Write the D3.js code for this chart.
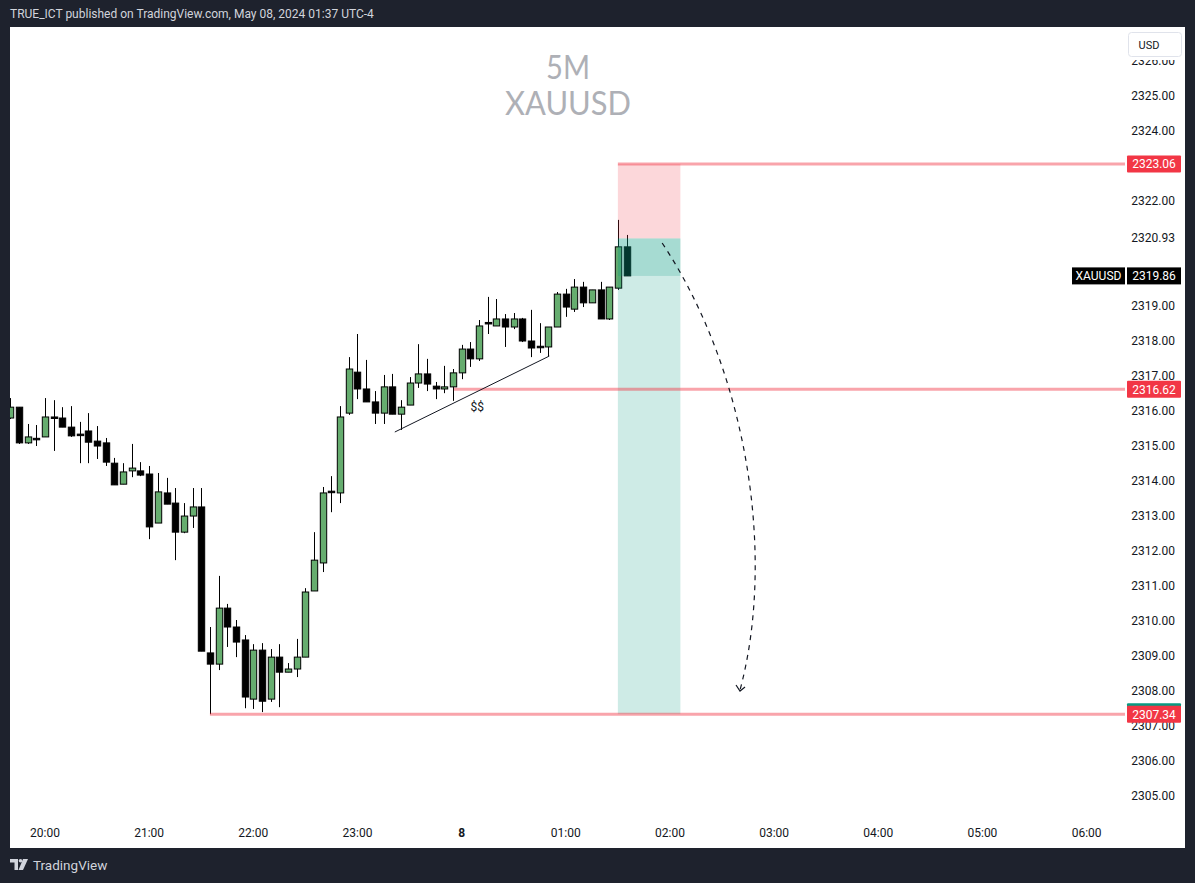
<!DOCTYPE html>
<html>
<head>
<meta charset="utf-8">
<script src="https://cdn.jsdelivr.net/npm/d3@7"></script>
<style>
  html, body { margin: 0; padding: 0; background: #1e222d; overflow: hidden; }
  text { font-family: Roboto, "Noto Sans", sans-serif; }
</style>
</head>
<body>
<script>

// 5 minute XAUUSD bars, bar index 0 = 20:00
var firstIndex = -4;
var opens  = [2315.80,2316.11,2315.09,2315.22,2315.26,2315.83,2315.80,2315.54,2315.34,2315.43,2315.14,2315.09,2314.51,2313.91,2314.29,2314.29,2314.20,2312.80,2313.66,2313.37,2312.54,2313.00,
              2313.26,2309.09,2308.77,2310.37,2309.83,2309.46,2307.77,2309.17,2307.77,2308.97,2308.54,2308.63,2308.97,2310.86,2311.66,2313.71,2313.66,2315.94,2317.11,2316.63,2316.26,2315.94,
              2316.69,2315.91,2316.17,2316.80,2317.06,2316.71,2316.63,2316.69,2317.09,2317.77,2317.49,2318.53,2318.43,2318.63,2318.40,2318.63,2318.00,2317.85,2317.83,2318.40,2319.34,2318.91,
              2319.54,2319.09,2319.46,2318.63,2319.51,2320.69];
var highs  = [2316.37,2316.11,2315.63,2315.60,2316.37,2316.31,2316.11,2316.14,2315.69,2315.94,2315.57,2315.23,2314.66,2314.51,2315.06,2314.54,2314.43,2314.23,2314.09,2313.80,2313.37,2313.80,
              2313.80,2309.83,2311.29,2310.49,2310.03,2309.60,2309.34,2309.37,2309.20,2309.34,2308.80,2309.49,2310.94,2312.54,2313.83,2314.14,2316.14,2317.54,2318.20,2317.46,2316.57,2317.03,
              2317.06,2316.31,2316.97,2317.91,2317.49,2316.83,2317.29,2317.20,2317.89,2317.97,2318.60,2319.26,2319.20,2318.77,2318.80,2318.66,2318.89,2318.51,2318.40,2319.40,2319.49,2319.77,
              2319.69,2319.46,2319.69,2319.54,2321.46,2321.03];
var lows   = [2315.77,2315.06,2315.06,2315.00,2315.26,2314.86,2315.54,2315.26,2314.51,2314.51,2314.63,2314.43,2313.89,2313.91,2314.11,2314.14,2312.34,2312.80,2313.34,2311.74,2312.51,2312.66,
              2309.14,2307.34,2308.60,2309.26,2308.97,2307.51,2307.49,2307.40,2307.69,2307.54,2308.54,2308.40,2308.97,2310.86,2311.40,2313.11,2313.37,2315.89,2316.34,2316.26,2315.63,2315.63,
              2315.91,2315.46,2316.17,2316.66,2316.57,2316.34,2316.51,2316.29,2316.91,2317.26,2317.43,2318.20,2318.43,2317.83,2318.34,2317.97,2317.54,2317.66,2317.57,2318.40,2318.69,2318.83,
              2318.97,2319.09,2318.63,2318.60,2319.46,2319.86];
var closes = [2316.11,2315.09,2315.26,2315.20,2315.83,2315.80,2315.54,2315.29,2315.32,2315.11,2315.00,2314.54,2313.89,2314.26,2314.37,2314.17,2312.69,2313.69,2313.34,2312.54,2313.00,2313.26,
              2309.14,2308.77,2310.37,2309.83,2309.40,2307.83,2309.17,2307.71,2308.97,2308.54,2308.63,2308.97,2310.83,2311.74,2313.66,2313.69,2315.83,2317.20,2316.63,2316.26,2315.94,2316.69,
              2315.91,2316.11,2316.80,2317.06,2316.77,2316.63,2316.69,2317.09,2317.77,2317.49,2318.43,2318.49,2318.63,2318.40,2318.63,2318.00,2317.80,2317.82,2318.40,2319.34,2318.97,2319.54,
              2319.09,2319.46,2318.63,2319.54,2320.69,2319.86];

var timeTicks  = [0, 12, 24, 36, 48, 60, 72, 84, 96, 108, 120];
var timeLabels = ["20:00", "21:00", "22:00", "23:00", "8", "01:00", "02:00", "03:00", "04:00", "05:00", "06:00"];
// 2320 and 2321 are hidden by the last price / entry marks
var priceTicks = [2305, 2306, 2307, 2308, 2309, 2310, 2311, 2312, 2313, 2314, 2315, 2316, 2317, 2318, 2319, 2322, 2323, 2324, 2325, 2326];

// short position tool
var stopPrice = 2323.06, entryPrice = 2320.93, targetPrice = 2307.34, lastPrice = 2319.86;
var positionFrom = 66, positionTo = 73.2;

// horizontal levels
var levelPrices = [2323.06, 2316.62, 2307.34];
var levelStarts = [66, 47.1, 19];

// trend line under the lows and the "$$" mark
var trendIdx = [40.3, 58.1], trendPrice = [2315.4, 2317.57];
var markIdx = 49.8, markPrice = 2316.0;

// dashed projection arrow (cubic: start, ctrl1, ctrl2, end)
var arrowIdx   = [71.1, 81.2, 84.1, 80.07];
var arrowPrice = [2320.8, 2317.03, 2311.74, 2308.03];

var W = 1195, H = 883,
    panel = {left: 10, top: 27, right: 1185, bottom: 848},
    plot = {left: 10, top: 27, right: 1125, bottom: 815},
    barStep = 8.68;

var bars = opens.map(function(o, i) {
  return {i: firstIndex + i, o: o, h: highs[i], l: lows[i], c: closes[i]};
});

var x = d3.scaleLinear()
    .domain([(plot.left - 45) / barStep, (plot.right - 45) / barStep])
    .range([plot.left, plot.right]);
var y = d3.scaleLinear()
    .domain([2304.46, 2326.97])
    .range([plot.bottom, plot.top]);

var svg = d3.select("body").append("svg")
    .attr("width", W)
    .attr("height", H);

svg.append("rect").attr("width", W).attr("height", H).attr("fill", "#1e222d");
svg.append("rect")
    .attr("x", panel.left).attr("y", panel.top)
    .attr("width", panel.right - panel.left).attr("height", panel.bottom - panel.top)
    .attr("fill", "#ffffff");

// header / footer
svg.append("text")
    .attr("x", 10).attr("y", 18)
    .attr("fill", "#d1d4dc").style("font-size", "12px")
    .text("TRUE_ICT published on TradingView.com, May 08, 2024 01:37 UTC-4");

var logo = svg.append("g").attr("transform", "translate(10,859)").attr("fill", "#d1d4dc");
logo.append("path").attr("d", "M0,0 H8 V11 H4.5 V3.5 H0 Z");
logo.append("circle").attr("cx", 10.5).attr("cy", 1.8).attr("r", 1.8);
logo.append("path").attr("d", "M13,0 H18 L13,11 H8.5 Z");
svg.append("text")
    .attr("x", 33).attr("y", 870)
    .attr("fill", "#d1d4dc").style("font-size", "13.5px")
    .text("TradingView");

// watermark
svg.append("text")
    .attr("x", 568).attr("y", 79)
    .attr("text-anchor", "middle")
    .attr("fill", "#aeb0b6")
    .attr("textLength", 44).attr("lengthAdjust", "spacingAndGlyphs")
    .style("font-family", "Lato, sans-serif").style("font-size", "33px")
    .text("5M");
svg.append("text")
    .attr("x", 568).attr("y", 115)
    .attr("text-anchor", "middle")
    .attr("fill", "#aeb0b6")
    .attr("textLength", 126).attr("lengthAdjust", "spacingAndGlyphs")
    .style("font-family", "Lato, sans-serif").style("font-size", "33px")
    .text("XAUUSD");

svg.append("clipPath").attr("id", "clip")
  .append("rect")
    .attr("x", plot.left).attr("y", plot.top)
    .attr("width", plot.right - plot.left).attr("height", plot.bottom - plot.top);

var chart = svg.append("g").attr("clip-path", "url(#clip)");

// candles
var bodyW = 6.4;
var candle = chart.selectAll(".candle")
    .data(bars)
  .enter().append("g")
    .attr("class", "candle");

candle.append("line")
    .attr("x1", function(d) { return Math.round(x(d.i)) + 0.5; })
    .attr("x2", function(d) { return Math.round(x(d.i)) + 0.5; })
    .attr("y1", function(d) { return y(d.h); })
    .attr("y2", function(d) { return y(d.l); })
    .attr("stroke", "#000").attr("stroke-width", 1);

candle.append("rect")
    .attr("x", function(d) { return Math.round(x(d.i)) + 0.5 - bodyW / 2; })
    .attr("y", function(d) { return y(Math.max(d.o, d.c)); })
    .attr("width", bodyW)
    .attr("height", function(d) { return Math.max(1.5, Math.abs(y(d.o) - y(d.c))); })
    .attr("fill", function(d) { return d.c >= d.o ? "#66ad6f" : "#000"; })
    .attr("stroke", "#000").attr("stroke-width", 1);

// position tool (drawn over the bars, translucent)
var px0 = x(positionFrom), px1 = x(positionTo);
chart.append("rect")
    .attr("x", px0).attr("y", y(stopPrice))
    .attr("width", px1 - px0).attr("height", y(entryPrice) - y(stopPrice))
    .attr("fill", "rgba(242,54,69,0.2)");
chart.append("rect")
    .attr("x", px0).attr("y", y(entryPrice))
    .attr("width", px1 - px0).attr("height", y(targetPrice) - y(entryPrice))
    .attr("fill", "rgba(8,153,129,0.2)");
chart.append("rect")
    .attr("x", px0).attr("y", y(entryPrice))
    .attr("width", px1 - px0).attr("height", y(lastPrice) - y(entryPrice))
    .attr("fill", "rgba(8,153,129,0.2)");

// horizontal levels
chart.selectAll(".level")
    .data(levelPrices)
  .enter().append("line")
    .attr("class", "level")
    .attr("x1", function(d, i) { return x(levelStarts[i]); })
    .attr("x2", plot.right)
    .attr("y1", function(d) { return y(d); })
    .attr("y2", function(d) { return y(d); })
    .attr("stroke", "rgba(242,54,69,0.45)")
    .attr("stroke-width", 3);

// trend line + $$ mark
chart.append("line")
    .attr("x1", x(trendIdx[0])).attr("y1", y(trendPrice[0]))
    .attr("x2", x(trendIdx[1])).attr("y2", y(trendPrice[1]))
    .attr("stroke", "#131722").attr("stroke-width", 1);
chart.append("text")
    .attr("x", x(markIdx)).attr("y", y(markPrice))
    .attr("text-anchor", "middle")
    .attr("fill", "#131722").style("font-size", "12px")
    .text("$$");

// dashed projection arrow
var ap = d3.path();
ap.moveTo(x(arrowIdx[0]), y(arrowPrice[0]));
ap.bezierCurveTo(x(arrowIdx[1]), y(arrowPrice[1]), x(arrowIdx[2]), y(arrowPrice[2]), x(arrowIdx[3]), y(arrowPrice[3]));
chart.append("path")
    .attr("d", ap.toString())
    .attr("fill", "none")
    .attr("stroke", "#131722").attr("stroke-width", 1.2)
    .attr("stroke-dasharray", "5,5");
var ex = x(arrowIdx[3]), ey = y(arrowPrice[3]);
chart.append("path")
    .attr("d", "M" + (ex - 4) + "," + (ey - 5) + " L" + ex + "," + (ey + 1) + " L" + (ex + 5) + "," + (ey - 3))
    .attr("fill", "none").attr("stroke", "#131722").attr("stroke-width", 1.2);

// time axis
svg.selectAll(".tlab")
    .data(timeTicks)
  .enter().append("text")
    .attr("class", "tlab")
    .attr("x", function(d) { return x(d); })
    .attr("y", 837)
    .attr("text-anchor", "middle")
    .attr("fill", "#131722")
    .style("font-size", "12px")
    .style("font-weight", function(d, i) { return timeLabels[i] === "8" ? "bold" : "normal"; })
    .text(function(d, i) { return timeLabels[i]; });

// price axis
svg.selectAll(".plab")
    .data(priceTicks)
  .enter().append("text")
    .attr("class", "plab")
    .attr("x", 1175)
    .attr("y", function(d) { return y(d) + 4; })
    .attr("text-anchor", "end")
    .attr("fill", "#131722")
    .style("font-size", "12px")
    .text(function(d) { return d.toFixed(2); });

// entry price shown on the scale
svg.append("text")
    .attr("x", 1175).attr("y", y(entryPrice) + 4)
    .attr("text-anchor", "end").attr("fill", "#131722")
    .style("font-size", "12px")
    .text(entryPrice.toFixed(2));

// target label peeking out behind the level label
svg.append("rect")
    .attr("x", 1127).attr("y", y(targetPrice) - 11).attr("width", 54).attr("height", 17)
    .attr("rx", 1).attr("fill", "#089981");

// level labels
var lab = svg.selectAll(".lvl")
    .data(levelPrices)
  .enter().append("g")
    .attr("class", "lvl");
lab.append("rect")
    .attr("x", 1127).attr("y", function(d) { return y(d) - 8.5; })
    .attr("width", 54).attr("height", 17)
    .attr("rx", 1)
    .attr("fill", "#f23645");
lab.append("text")
    .attr("x", 1154).attr("y", function(d) { return y(d) + 4.5; })
    .attr("text-anchor", "middle").attr("fill", "#fff")
    .style("font-size", "12px")
    .text(function(d) { return d.toFixed(2); });

// last price label
svg.append("rect")
    .attr("x", 1072).attr("y", y(lastPrice) - 8.5).attr("width", 53).attr("height", 17)
    .attr("fill", "#000");
svg.append("text")
    .attr("x", 1098.5).attr("y", y(lastPrice) + 4.5)
    .attr("text-anchor", "middle").attr("fill", "#fff")
    .style("font-size", "12px")
    .text("XAUUSD");
svg.append("rect")
    .attr("x", 1127).attr("y", y(lastPrice) - 8.5).attr("width", 54).attr("height", 17)
    .attr("fill", "#000");
svg.append("text")
    .attr("x", 1154).attr("y", y(lastPrice) + 4.5)
    .attr("text-anchor", "middle").attr("fill", "#fff")
    .style("font-size", "12px")
    .text(lastPrice.toFixed(2));

// currency button (covers the top of the 2326 tick like the original)
svg.append("rect")
    .attr("x", 1128).attr("y", 27).attr("width", 54).attr("height", 33)
    .attr("fill", "#fff");
svg.append("rect")
    .attr("x", 1128.5).attr("y", 32.5).attr("width", 53).attr("height", 24)
    .attr("rx", 3)
    .attr("fill", "#fff").attr("stroke", "#e0e3eb");
svg.append("text")
    .attr("x", 1149).attr("y", 48.5)
    .attr("text-anchor", "middle").attr("fill", "#131722")
    .style("font-size", "11px")
    .text("USD");

</script>
</body>
</html>
